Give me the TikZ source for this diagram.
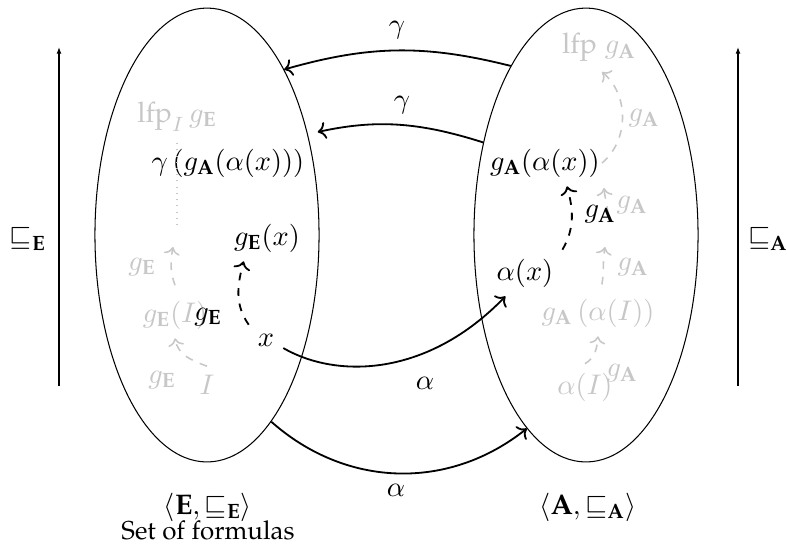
\documentclass[tikz,border=0pt]{standalone}
\usepackage[T1]{fontenc}
\renewcommand{\rmdefault}{ppl}
\usepackage{amsmath}
\usetikzlibrary{shapes.geometric,arrows.meta}
\definecolor{fadedgray}{gray}{0.78}
\newcommand{\myE}{\textbf{E}}
\newcommand{\myA}{\textbf{A}}
\begin{document}
\begin{tikzpicture}[x=0.386pt,y=0.386pt,
  every node/.style={font=\fontsize{10.95}{13.6}\selectfont},
  setshape/.style={draw, ellipse, line width=0.4pt, minimum width=86.5pt, minimum height=175.2pt, inner sep=0pt},
  faint/.style={text=fadedgray},
  faintarrow/.style={draw=fadedgray, dashed, line width=0.6pt, -{To}},
  dasharrow/.style={dashed, line width=0.7pt, -{To}},
  maparrow/.style={line width=0.7pt, -{To}},
  orderarrow/.style={line width=0.4pt, -{Latex[length=2.6pt,width=1.9pt]}}]
\useasboundingbox (0,0) rectangle (787,-543);

% the two sets
\node[setshape] (E) at (207,-235) {};
\node[setshape] (A) at (586,-235) {};

% order arrows
\coordinate (Elo) at (59,-386);
\coordinate (Ehi) at (59,-47);
\coordinate (Alo) at (738,-386);
\coordinate (Ahi) at (738,-47);
\draw[orderarrow] (Elo) -- (Ehi);
\draw[orderarrow] (Alo) -- (Ahi);
\node (ordE) at (28,-239) {$\sqsubseteq_{\myE}$};
\node (ordA) at (768,-239) {$\sqsubseteq_{\myA}$};

% left set contents
\node[faint] (lfpI) at (177,-117) {$\textrm{lfp}_I\, g_{\myE}$};
\node (gam) at (228,-163) {$\gamma\left(g_{\myA}(\alpha(x))\right)$};
\node (gEx) at (267,-238) {$g_{\myE}(x)$};
\node (nx) at (266,-340) {$x$};
\node[faint] (gEI) at (175,-315) {$g_{\myE}(I)$};
\node[faint] (nI) at (207,-385) {$I$};
\coordinate (l1) at (173,-247);
\coordinate (l2) at (177,-225);
\coordinate (l3) at (177,-140);

\draw[faintarrow] (nI.north) to[out=160,in=-80] (gEI.south);
\draw[faintarrow] ([yshift=2.5pt]gEI.north) to[out=110,in=-100] (l1);
\draw[fadedgray, dotted, line width=0.4pt] (l2) -- (l3);
\node[faint] (lbEa) at (162,-380) {$g_{\myE}$};
\node[faint] (lbEb) at (142,-267) {$g_{\myE}$};

\draw[dasharrow] (nx.north west) to[out=125,in=-105] (gEx.-135);
\node (lbEx) at (208,-317) {$g_{\myE}$};

% right set contents
\node[faint] (lfpA) at (599,-47) {$\textrm{lfp}\; g_{\myA}$};
\node (gAax) at (545,-163) {$g_{\myA}(\alpha(x))$};
\node (ax) at (525,-273) {$\alpha(x)$};
\node[faint] (gAaI) at (598,-313) {$g_{\myA}\left(\alpha(I)\right)$};
\node[faint] (aI) at (585,-387) {$\alpha(I)$};
\coordinate (c1) at (605,-247);
\coordinate (c2) at (608,-214);
\coordinate (c3) at (604,-188);
\coordinate (c4) at (602,-163);
\coordinate (c5) at (602,-72);

\draw[faintarrow] (aI.north) to[out=30,in=-95] (gAaI.south);
\draw[faintarrow] ([xshift=1.5pt,yshift=2pt]gAaI.north) to[out=80,in=-100] (c1);
\draw[faintarrow] (c2) to[out=95,in=-85] (c3);
\draw[faintarrow] (c4) to[out=40,in=-40] (c5);
\node[faint] (lbAa) at (622,-373) {$g_{\myA}$};
\node[faint] (lbAb) at (633,-267) {$g_{\myA}$};
\node[faint] (lbAc) at (632,-205) {$g_{\myA}$};
\node[faint] (lbAd) at (644,-118) {$g_{\myA}$};

\draw[dasharrow] (ax.north east) to[out=60,in=-75] ([xshift=8.5pt]gAax.south);
\node (lbAx) at (600,-214) {$g_{\myA}$};

% maps between the sets
\draw[maparrow] (A.114.9) to[bend right=15] (E.65.5);
\draw[maparrow, shorten >=3.9pt] (A.138.2) to[bend right=15] (E.45);
\draw[maparrow] (nx.-25) .. controls +(-30:62) and +(-134:112) .. (ax.-130);
\draw[maparrow] (E.-71.9) to[bend right=40] (A.-107.9);
\node (lbG1) at (397,-30) {$\gamma$};
\node (lbG2) at (402,-105) {$\gamma$};
\node (lbA1) at (425,-383) {$\alpha$};
\node (lbA2) at (396,-490) {$\alpha$};

% captions
\node (capE) at (208,-507) {$\langle\myE,\sqsubseteq_{\myE}\rangle$};
\node[inner sep=1pt, font=\fontsize{10}{12}\selectfont] (capS) at (208,-530) {Set of formulas};
\node (capA) at (588,-507) {$\langle\myA,\sqsubseteq_{\myA}\rangle$};
\end{tikzpicture}
\end{document}
